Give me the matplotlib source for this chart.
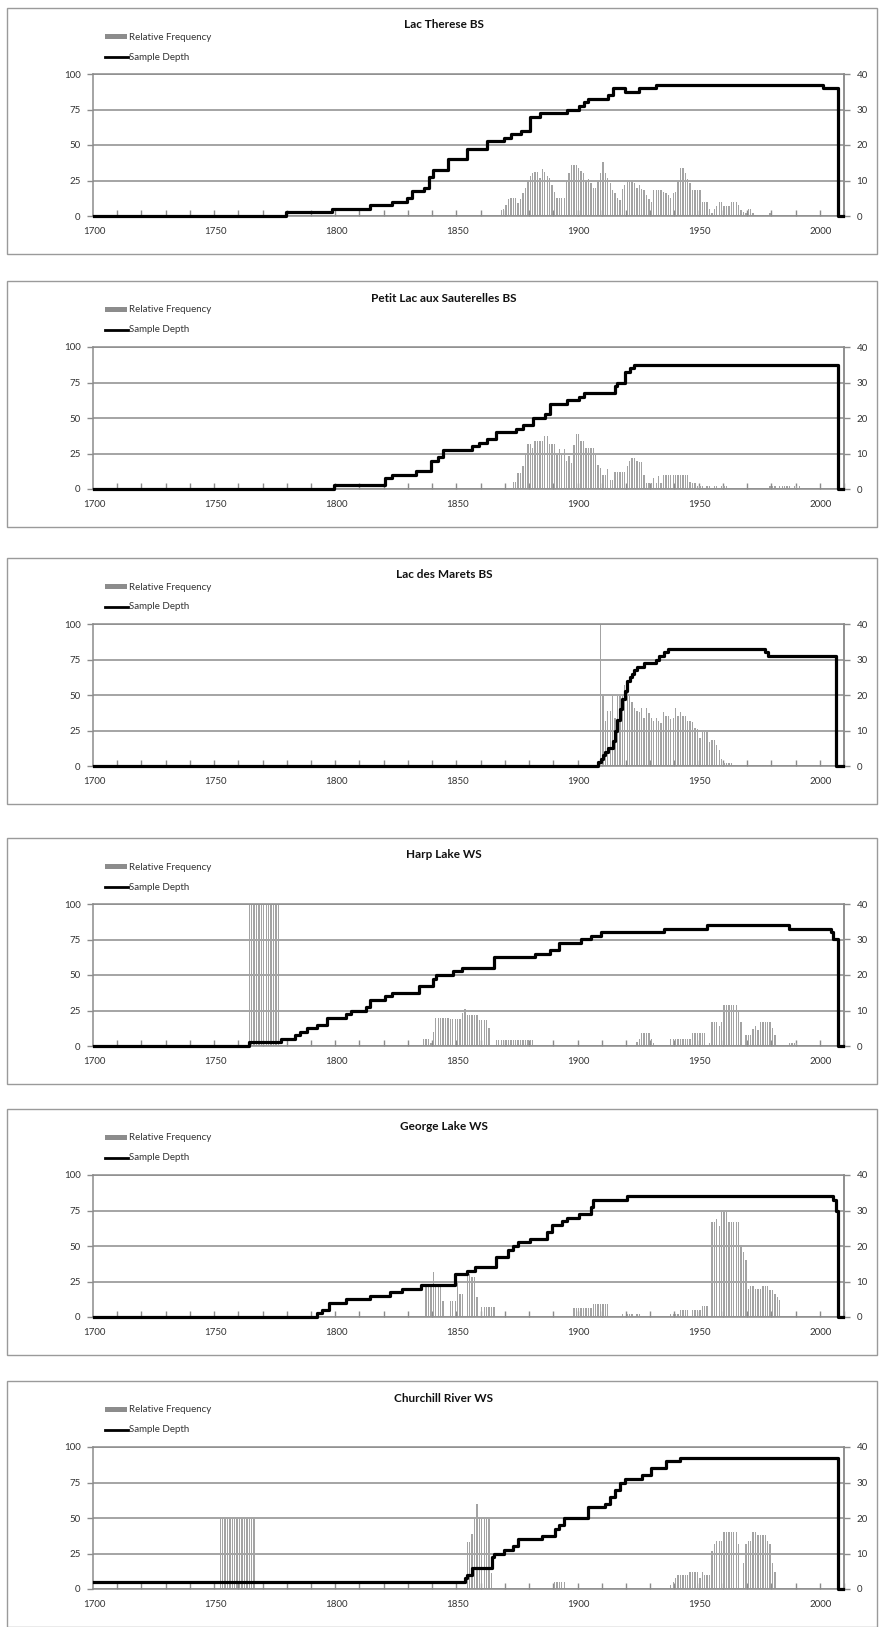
import numpy as np
import matplotlib
matplotlib.use("Agg")
import matplotlib.pyplot as plt
from matplotlib.patches import Rectangle
from matplotlib.lines import Line2D

plt.rcParams["font.family"] = ["Lato", "DejaVu Sans"]

# ---- data: relative frequency bars (start year, yearly values) and sample depth steps ----
therese_bars = [(1868, [4, 5, 8, 12, 13, 13, 13, 9, 12, 16, 20, 25, 28, 30, 31, 31, 27, 33, 31, 28, 27, 22,
                        17, 13, 13, 13, 13, 25, 30, 36, 36, 36, 34, 32, 30, 25, 26, 23, 20, 20, 25, 30, 38,
                        30, 27, 23, 18, 16, 13, 11, 19, 22, 25, 25, 25, 23, 20, 22, 19, 18, 15, 12, 10,
                        18, 18, 18, 18, 17, 16, 15, 13, 16, 17, 25, 34, 34, 30, 26, 23, 18, 18, 18, 18,
                        10, 10, 10, 5, 2, 5, 7, 10, 10, 7, 7, 7, 10, 10, 10, 8, 4, 3, 2, 5,
                        5, 2, 1, 1, 1, 1, 1, 1, 2, 1])]
therese_depth_years = [1700, 1779, 1798, 1814, 1823, 1829, 1831, 1836, 1838, 1840, 1846, 1854, 1862, 1869, 1872,
                       1876, 1880, 1884, 1895, 1900, 1902, 1904, 1912, 1914, 1919, 1925, 1932, 2001, 2007, 2009]
therese_depth = [0, 1, 2, 3, 4, 5, 7, 8, 11, 13, 16, 19, 21, 22, 23,
                 24, 28, 29, 30, 31, 32, 33, 34, 36, 35, 36, 37, 36, 0, 0]

sauterelles_bars = [(1873, [5, 5, 11, 11, 16, 25, 32, 32, 29, 34, 34, 34, 34, 37, 37, 32, 32,
                            32, 24, 28, 24, 28, 20, 23, 18, 31, 39, 39, 34, 34, 29, 29, 29, 29, 24, 17, 15,
                            10, 10, 14, 6, 6, 12, 12, 12, 12, 12, 16, 20, 22, 22, 20, 19, 19, 10, 4, 4,
                            4, 8, 4, 9, 4, 10, 10, 10, 10, 10, 10, 10, 10, 10, 10, 10, 5, 4, 4, 2,
                            2, 2, 1, 2, 2, 1, 2, 2, 1, 2, 2, 2, 1]),
                    (1970, [1]),
                    (1979, [2, 2, 2, 1, 2, 2, 2, 2, 2, 1, 2, 2, 2])]
sauterelles_depth_years = [1700, 1799, 1820, 1823, 1833, 1839, 1842, 1844, 1856, 1859, 1862, 1866, 1874, 1877,
                           1881, 1886, 1888, 1895, 1900, 1902, 1915, 1916, 1919, 1921, 1923, 2007, 2009]
sauterelles_depth = [0, 1, 3, 4, 5, 8, 9, 11, 12, 13, 14, 16, 17, 18,
                     20, 21, 24, 25, 26, 27, 29, 30, 33, 34, 35, 0, 0]

marets_bars = [(1909, [100, 49, 32, 39, 39, 49, 34, 49, 49, 49, 57, 57, 51, 45, 41, 39, 38, 41, 34, 41, 37,
                       34, 32, 34, 32, 30, 38, 35, 35, 33, 34, 41, 35, 38, 35, 35, 32, 32, 31, 27, 26,
                       20, 24, 24, 24, 17, 18, 18, 15, 11, 5, 2, 2, 2, 2]),
               (1975, [1, 1, 1, 0, 1])]
marets_depth_years = [1700, 1908, 1909, 1910, 1911, 1912, 1914, 1915, 1916, 1917, 1918, 1919, 1920, 1921,
                      1922, 1923, 1924, 1927, 1932, 1933, 1935, 1937, 1977, 1978, 2006, 2009]
marets_depth = [0, 1, 2, 3, 4, 5, 7, 10, 13, 16, 19, 21, 24, 25,
                26, 27, 28, 29, 30, 31, 32, 33, 32, 31, 0, 0]

harp_bars = [(1764, [100, 100, 100, 100, 100, 100, 100, 100, 100, 100, 100, 100, 100]),
             (1836, [5, 5, 5, 2, 10, 20, 20, 20, 20, 20, 20, 19, 19, 19, 19, 19, 23, 26, 22, 22, 22, 22, 22,
                     18, 18, 18, 18, 13, 0, 0, 4, 4, 4, 4, 4, 4, 4, 4, 4, 4, 4, 4, 4, 4, 4, 4]),
             (1924, [3, 5, 9, 9, 9, 9, 5, 2]),
             (1938, [5, 5, 5, 5, 5, 5, 5, 5, 5, 9, 9, 9, 9, 9, 9, 0, 2, 17, 17, 17, 14, 17,
                     29, 29, 29, 29, 29, 29, 25, 17, 0, 8, 8, 8, 12, 14, 11, 17, 17, 17, 17, 17, 13, 8]),
             (1987, [2, 2, 2, 2])]
harp_depth_years = [1700, 1764, 1777, 1783, 1785, 1788, 1792, 1796, 1804, 1806, 1812, 1814, 1820, 1823, 1834,
                    1840, 1841, 1848, 1852, 1865, 1882, 1888, 1892, 1901, 1905, 1909, 1935, 1953, 1987,
                    2004, 2005, 2007, 2009]
harp_depth = [0, 1, 2, 3, 4, 5, 6, 8, 9, 10, 11, 13, 14, 15, 17,
              19, 20, 21, 22, 25, 26, 27, 29, 30, 31, 32, 33, 34, 33,
              32, 30, 0, 0]

george_bars = [(1837, [21, 21, 21, 32, 21, 21, 21, 11, 0, 0, 11, 11, 11, 25, 16, 16, 0, 30, 30, 28, 28, 14, 0,
                       7, 7, 7, 7, 7, 7]),
               (1898, [6, 6, 6, 6, 6, 6, 6, 6, 9, 9, 9, 9, 9, 9, 9]),
               (1918, [2, 0, 2, 2, 2, 0, 2, 2]),
               (1938, [2, 2, 2, 2, 5, 5, 5, 5, 0, 5, 5, 5, 5, 8, 8, 8, 0, 67, 67, 69, 64, 75, 75, 75,
                       67, 67, 67, 67, 67, 51, 46, 40, 20, 22, 22, 20, 20, 20, 22, 22, 22, 19, 19, 16, 14, 12])]
george_depth_years = [1700, 1792, 1794, 1797, 1804, 1814, 1822, 1827, 1835, 1849, 1854, 1857, 1866, 1871, 1873,
                      1875, 1880, 1887, 1889, 1893, 1895, 1900, 1905, 1906, 1920, 2005, 2006, 2007, 2009]
george_depth = [0, 1, 2, 4, 5, 6, 7, 8, 9, 12, 13, 14, 17, 19, 20,
                21, 22, 24, 26, 27, 28, 29, 31, 33, 34, 33, 30, 0, 0]

churchill_bars = [(1752, [50, 50, 50, 50, 50, 50, 50, 50, 50, 50, 50, 50, 50, 50, 50]),
                  (1854, [33, 33, 39, 50, 60, 50, 50, 50, 50, 50, 11]),
                  (1890, [5, 5, 5, 5, 5]),
                  (1938, [3, 5, 8, 10, 10, 10, 10, 10, 12, 12, 12, 12, 8, 12, 10, 10, 10, 27, 32, 34, 34, 34,
                          40, 40, 40, 40, 40, 40, 32, 0, 18, 32, 34, 34, 40, 40, 38, 38, 38, 38, 34, 32, 18, 12])]
churchill_depth_years = [1700, 1853, 1854, 1856, 1864, 1865, 1869, 1873, 1875, 1885, 1890, 1892, 1894, 1904,
                         1911, 1913, 1915, 1917, 1919, 1926, 1930, 1936, 1942, 2007, 2009]
churchill_depth = [2, 3, 4, 6, 9, 10, 11, 12, 14, 15, 17, 18, 20, 23,
                   24, 26, 28, 30, 31, 32, 34, 36, 37, 0, 0]

titles = ["Lac Therese BS", "Petit Lac aux Sauterelles BS", "Lac des Marets BS",
          "Harp Lake WS", "George Lake WS", "Churchill River WS"]
left_ticks = [0, 25, 50, 75, 100]
right_ticks = [0, 10, 20, 30, 40]
year_labels = [1700, 1750, 1800, 1850, 1900, 1950, 2000]

panels = [
    (therese_bars, therese_depth_years, therese_depth),
    (sauterelles_bars, sauterelles_depth_years, sauterelles_depth),
    (marets_bars, marets_depth_years, marets_depth),
    (harp_bars, harp_depth_years, harp_depth),
    (george_bars, george_depth_years, george_depth),
    (churchill_bars, churchill_depth_years, churchill_depth),
]

# ---- layout in pixels ----
W, H = 886, 1627
ax_tops = [74, 347, 624, 904, 1175, 1447]
ax_left, ax_w, ax_h = 93, 751, 142
grid_c = "#8c8c8c"
txt_c = "#333333"

fig = plt.figure(figsize=(W / 100, H / 100), dpi=100)


def fx(px):
    return px / W


def fy(py):
    return 1 - py / H


for (bars, dyears, depth), title, top in zip(panels, titles, ax_tops):
    # panel frame
    fig.patches.append(Rectangle((fx(7), fy(top + 180)), 870 / W, 246 / H, transform=fig.transFigure,
                                 fill=False, edgecolor="#9a9a9a", lw=1.0))
    fig.text(fx(444), fy(top - 49), title, ha="center", va="center", fontsize=8.5,
             fontweight="bold", color="#111111")

    # legend
    fig.patches.append(Rectangle((fx(105), fy(top - 35)), 22 / W, 5 / H, transform=fig.transFigure,
                                 facecolor="#8c8c8c", edgecolor="none"))
    fig.text(fx(129), fy(top - 37), "Relative Frequency", ha="left", va="center", fontsize=7, color=txt_c)
    fig.lines.append(Line2D([fx(105), fx(128)], [fy(top - 17), fy(top - 17)], transform=fig.transFigure,
                            color="black", lw=2.0))
    fig.text(fx(129), fy(top - 17), "Sample Depth", ha="left", va="center", fontsize=7, color=txt_c)

    ax = fig.add_axes([fx(ax_left), fy(top + ax_h), ax_w / W, ax_h / H])
    for start, vals in bars:
        yrs = np.arange(start, start + len(vals))
        ax.bar(yrs, vals, width=0.55, color="#a3a3a3", linewidth=0, zorder=2)
    ax.set_xlim(1699.5, 2009.5)
    ax.set_ylim(0, 100)
    ax.set_yticks(left_ticks)
    ax.yaxis.grid(True, color=grid_c, lw=1.1, zorder=1)
    ax.set_axisbelow(True)
    ax.set_xticks(year_labels)
    ax.set_xticks(np.arange(1709.5, 2010, 10), minor=True)
    ax.tick_params(axis="x", which="major", length=0, pad=8, labelsize=7, labelcolor=txt_c)
    ax.tick_params(axis="x", which="minor", direction="in", length=4, width=1, color=grid_c)
    ax.tick_params(axis="y", direction="out", length=4, width=1, color=grid_c, pad=5,
                   labelsize=7, labelcolor=txt_c)
    for s in ax.spines.values():
        s.set_color(grid_c)
        s.set_linewidth(1.1)

    ax2 = ax.twinx()
    ax2.step(dyears, depth, where="post", color="black", lw=2.3, clip_on=False, zorder=5)
    ax2.set_ylim(0, 40)
    ax2.set_yticks(right_ticks)
    ax2.tick_params(axis="y", direction="out", length=4, width=1, color=grid_c, pad=5,
                    labelsize=7, labelcolor=txt_c)
    for s in ax2.spines.values():
        s.set_visible(False)
    ax2.spines["right"].set_visible(True)
    ax2.spines["right"].set_color(grid_c)
    ax2.spines["right"].set_linewidth(1.1)

fig.savefig("out.png", dpi=100, facecolor="white")
